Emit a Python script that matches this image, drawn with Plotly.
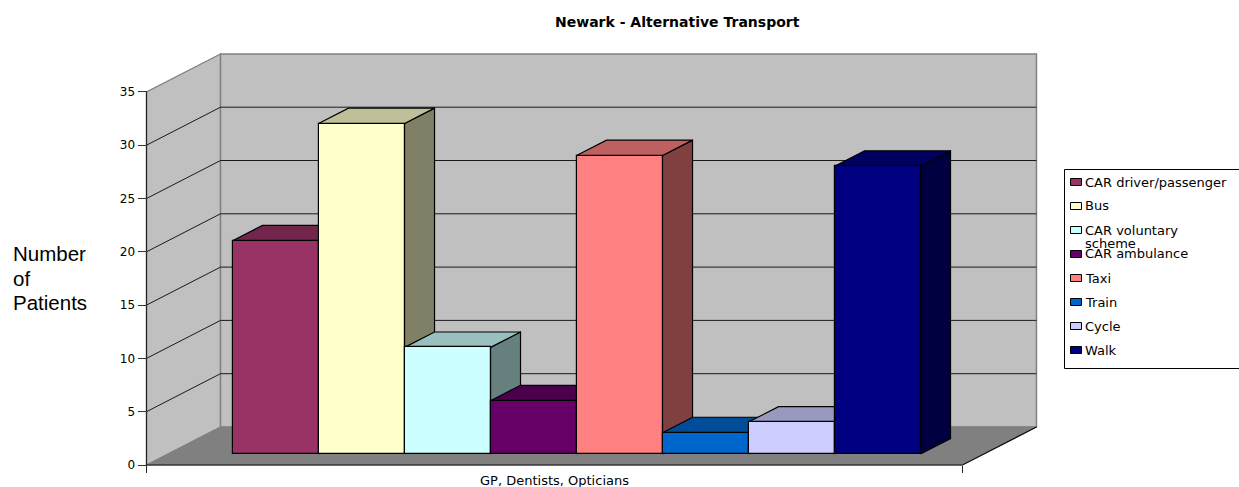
import plotly.graph_objects as go

# ---- data ----
categories = ["CAR driver/passenger", "Bus", "CAR voluntary<br>scheme", "CAR ambulance", "Taxi", "Train", "Cycle", "Walk"]
values = [20, 31, 10, 5, 28, 2, 3, 27]
colors = ["#993366", "#FFFFCC", "#CCFFFF", "#660066", "#FF8080", "#0066CC", "#CCCCFF", "#000080"]
y_ticks = [0, 5, 10, 15, 20, 25, 30, 35]
x_label = "GP, Dentists, Opticians"
title = "Newark - Alternative Transport"
y_title_lines = ["Number", "of", "Patients"]

# ---- page / projection geometry ----
W_PX, H_PX = 1239, 487
ORIGIN_X, ORIGIN_Y = 146.5, 465.0     # pixel of (0, 0) on the front plane
PX_U = 86.0                           # pixels per bar width
PX_V = 10.66                          # pixels per value unit
GAP = 0.744                           # side gap in bar widths
BAR_GAP = 0.751                       # left edge of first bar
WIDTH = len(values) + 2 * GAP
DX, DY = 74 / PX_U, 38 / PX_V         # full depth offset of the box
D0, D1 = 0.29, 0.695                  # bar depth range, fraction of the box
VMAX = y_ticks[-1]
FONT = "DejaVu Sans"


def shade(hex_color, k):
    r, g, b = (int(hex_color[i:i + 2], 16) for i in (1, 3, 5))
    return f"rgb({round(r * k)},{round(g * k)},{round(b * k)})"


def pt(u, v, d):
    return u + d * DX, v + d * DY


def poly(points, fill, line="black", lw=1.2):
    xs, ys = zip(*(points + points[:1]))
    return go.Scatter(x=xs, y=ys, mode="lines", fill="toself", fillcolor=fill,
                      line=dict(color=line, width=lw), hoverinfo="skip", showlegend=False)


def seg(points, color, lw=1.0):
    xs, ys = zip(*points)
    return go.Scatter(x=xs, y=ys, mode="lines", line=dict(color=color, width=lw),
                      hoverinfo="skip", showlegend=False)


fig = go.Figure()

# walls and floor
WALL, FLOOR, EDGE = "#C0C0C0", "#808080", "#808080"
fig.add_trace(poly([pt(0, 0, 0), pt(0, 0, 1), pt(0, VMAX, 1), pt(0, VMAX, 0)], WALL, EDGE, 1.2))
fig.add_trace(poly([pt(0, 0, 1), pt(WIDTH, 0, 1), pt(WIDTH, VMAX, 1), pt(0, VMAX, 1)], WALL, EDGE, 1.5))
fig.add_trace(poly([pt(0, 0, 0), pt(WIDTH, 0, 0), pt(WIDTH, 0, 1), pt(0, 0, 1)], FLOOR, FLOOR, 1))

# gridlines
for v in y_ticks[1:-1]:
    fig.add_trace(seg([pt(0, v, 0), pt(0, v, 1), pt(WIDTH, v, 1)], "#1a1a1a", 1))
fig.add_trace(seg([pt(0, 0, 0), pt(WIDTH, 0, 0), pt(WIDTH, 0, 1)], "#111111", 1.2))
fig.add_trace(seg([pt(0, 0, 0), pt(0, VMAX, 0)], "#222222", 1.2))

# 3-D bar sides and tops (fronts are real bars on the overlay axes)
for i, (v, c) in enumerate(zip(values, colors)):
    l, r = BAR_GAP + i, BAR_GAP + i + 1
    fig.add_trace(poly([pt(r, 0, D0), pt(r, 0, D1), pt(r, v, D1), pt(r, v, D0)], shade(c, 0.5)))
    fig.add_trace(poly([pt(l, v, D0), pt(r, v, D0), pt(r, v, D1), pt(l, v, D1)], shade(c, 0.75)))

fig.add_trace(go.Bar(
    x=[BAR_GAP + i + 0.5 + D0 * DX for i in range(len(values))],
    y=values, base=[D0 * DY] * len(values), width=1.0,
    marker=dict(color=colors, line=dict(color="black", width=1.2)),
    xaxis="x2", yaxis="y2", showlegend=False, hovertext=[c.replace("<br>", " ") for c in categories],
    hoverinfo="text+y",
))

x_range = [-ORIGIN_X / PX_U, (W_PX - ORIGIN_X) / PX_U]
y_range = [-(H_PX - ORIGIN_Y) / PX_V, ORIGIN_Y / PX_V]

annotations = [dict(text=f"<b>{title}</b>", x=677 / W_PX, y=1 - 22 / H_PX, xref="paper", yref="paper",
                    yanchor="middle", showarrow=False, font=dict(family=FONT, size=14, color="black"))]
for j, line in enumerate(y_title_lines):
    annotations.append(dict(text=line, x=11 / W_PX, y=1 - (254 + 24 * j) / H_PX, xref="paper", yref="paper",
                            xanchor="left", yanchor="middle", showarrow=False,
                            font=dict(family="Liberation Sans", size=20.5, color="black")))

# legend (the original's fixed row pitch overlaps a wrapped entry, so it is laid out by row)
LEG_L, LEG_T, LEG_B, ROW0, PITCH, WRAP = 1064.5, 169.5, 368.5, 182, 24, 13
shapes = [dict(type="rect", xref="paper", yref="paper", x0=LEG_L / W_PX, x1=1.01,
               y0=1 - LEG_B / H_PX, y1=1 - LEG_T / H_PX, line=dict(color="black", width=1),
               fillcolor="white")]
for i, (name, c) in enumerate(zip(categories, colors)):
    yc = ROW0 + PITCH * i
    shapes.append(dict(type="rect", xref="paper", yref="paper", x0=1070.5 / W_PX, x1=1081.5 / W_PX,
                       y0=1 - (yc + 3.5) / H_PX, y1=1 - (yc - 3.5) / H_PX, fillcolor=c,
                       line=dict(color="black", width=1)))
    for k, part in enumerate(name.split("<br>")):
        annotations.append(dict(text=part, x=1083 / W_PX, y=1 - (yc + k * WRAP) / H_PX, xref="paper", yref="paper",
                                xanchor="left", yanchor="middle", align="left", showarrow=False,
                                font=dict(family=FONT, size=13, color="black")))

fig.update_layout(
    width=W_PX, height=H_PX, margin=dict(l=0, r=0, t=0, b=0),
    paper_bgcolor="white", plot_bgcolor="white", showlegend=False,
    xaxis=dict(range=x_range, domain=[0, 1], anchor="free", position=(H_PX - ORIGIN_Y) / H_PX,
               tickmode="array", tickvals=[WIDTH / 2], ticktext=[x_label], ticks="", ticklen=0,
               showgrid=False, zeroline=False, showline=False, ticklabelstandoff=6,
               tickfont=dict(family=FONT, size=13, color="black"),
               minor=dict(ticks="outside", tickmode="array", tickvals=[0, WIDTH], ticklen=7,
                          tickcolor="#222222", tickwidth=1, showgrid=False)),
    yaxis=dict(range=y_range, domain=[0, 1], anchor="free", position=ORIGIN_X / W_PX,
               tickmode="array", tickvals=y_ticks, ticks="outside", ticklen=9, tickcolor="#333333",
               showgrid=False, zeroline=False, showline=False,
               tickfont=dict(family=FONT, size=12, color="black")),
    xaxis2=dict(range=x_range, overlaying="x", visible=False, anchor="y2"),
    yaxis2=dict(range=y_range, overlaying="y", visible=False, anchor="x2"),
    annotations=annotations, shapes=shapes, bargap=0,
)

fig.write_html("out.html", config=dict(displayModeBar=False),
               post_script="document.body.style.margin='0';document.body.style.overflow='hidden';")
